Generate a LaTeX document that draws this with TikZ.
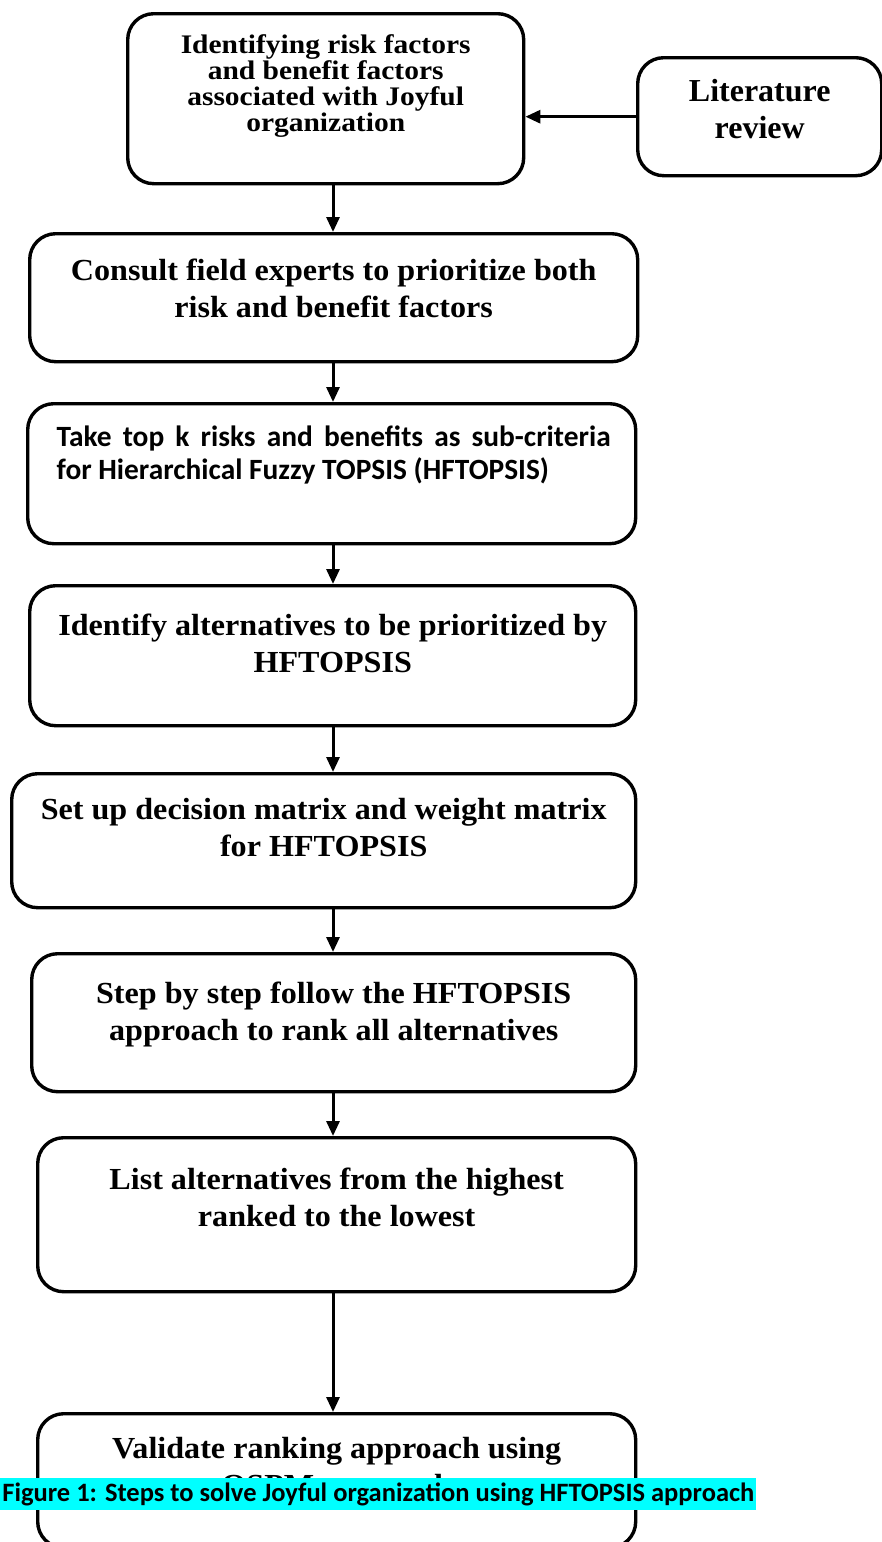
\documentclass[tikz,border=0pt]{standalone}
\usepackage{fontspec}
\setmainfont{Liberation Serif}
\newfontfamily\carlito{Carlito}
\usepackage{xcolor}
\usetikzlibrary{arrows.meta,calc}
\definecolor{hilite}{RGB}{0,255,255}

\tikzset{
  stepbox/.style={draw, line width=1.7pt, rounded corners=13pt, inner sep=0pt, anchor=north west},
  bigtext/.style={font=\bfseries\fontsize{15.3}{18.4}\selectfont\addfontfeature{FakeStretch=1.05}},
  flow/.style={line width=1.5pt, -{Triangle[length=7.5pt,width=6.5pt]}},
  captionbar/.style={fill=hilite, inner xsep=1pt, inner ysep=0pt, minimum height=16pt, anchor=north west, font=\carlito\bfseries\fontsize{13.25}{15}\selectfont}
}
\newcommand{\boxtext}[4]{\parbox[c][#2][t]{#1}{\centering\vspace*{#3}#4}}

\begin{document}
\begin{tikzpicture}[x=0.5pt,y=-0.5pt]
  \useasboundingbox (0,0) rectangle (882,1542);
  \coordinate (axis) at (333,0);
  \node[stepbox, font=\bfseries\fontsize{13.4}{13}\selectfont\addfontfeature{FakeStretch=1.1}] (ident) at (126,12) {\boxtext{198pt}{85pt}{10.5pt}{Identifying risk factors\\ and benefit factors\\ associated with Joyful\\ organization}};
  \node[stepbox, font=\bfseries\fontsize{16}{18.5}\selectfont] (lit) at (636,56) {\boxtext{122pt}{59pt}{11pt}{Literature\\ review}};
  \node[stepbox, bigtext] (consult) at (28,232) {\boxtext{304pt}{64pt}{12.5pt}{Consult field experts to prioritize both\\ risk and benefit factors}};
  \node[stepbox, font=\carlito\bfseries\fontsize{14.7}{16.5}\selectfont] (topk) at (26,402) {\parbox[c][70pt][t]{304pt}{\vspace*{11pt}\hspace*{14.5pt}\parbox{277pt}{\makebox[277pt][s]{Take top k risks and benefits as sub-criteria}\\ for Hierarchical Fuzzy TOPSIS (HFTOPSIS)}}};
  \node[stepbox, bigtext] (alt) at (28,584) {\boxtext{303pt}{70pt}{14pt}{Identify alternatives to be prioritized by\\ HFTOPSIS}};
  \node[stepbox, bigtext] (matrix) at (10,772) {\boxtext{312pt}{67pt}{12.5pt}{Set up decision matrix and weight matrix\\ for HFTOPSIS}};
  \node[stepbox, bigtext] (rank) at (30,952) {\boxtext{302pt}{69pt}{14pt}{Step by step follow the HFTOPSIS\\ approach to rank all alternatives}};
  \node[stepbox, bigtext] (list) at (36,1136) {\boxtext{299pt}{77pt}{15.3pt}{List alternatives from the highest\\ ranked to the lowest}};
  \node[stepbox, bigtext] (valid) at (36,1412) {\boxtext{299pt}{67pt}{12pt}{Validate ranking approach using\\ QSPM approach}};
  % arrows
  \draw[flow] (lit.west) -- (ident.east |- lit.west);
  \draw[flow] (ident.south -| axis) -- (consult.north -| axis);
  \draw[flow] (consult.south -| axis) -- (topk.north -| axis);
  \draw[flow] (topk.south -| axis) -- (alt.north -| axis);
  \draw[flow] (alt.south -| axis) -- (matrix.north -| axis);
  \draw[flow] (matrix.south -| axis) -- (rank.north -| axis);
  \draw[flow] (rank.south -| axis) -- (list.north -| axis);
  \draw[flow] (list.south -| axis) -- (valid.north -| axis);
  \node[captionbar] (cap) at (0,1478) {Figure 1: Steps to solve Joyful organization using HFTOPSIS approach};
\end{tikzpicture}
\end{document}
